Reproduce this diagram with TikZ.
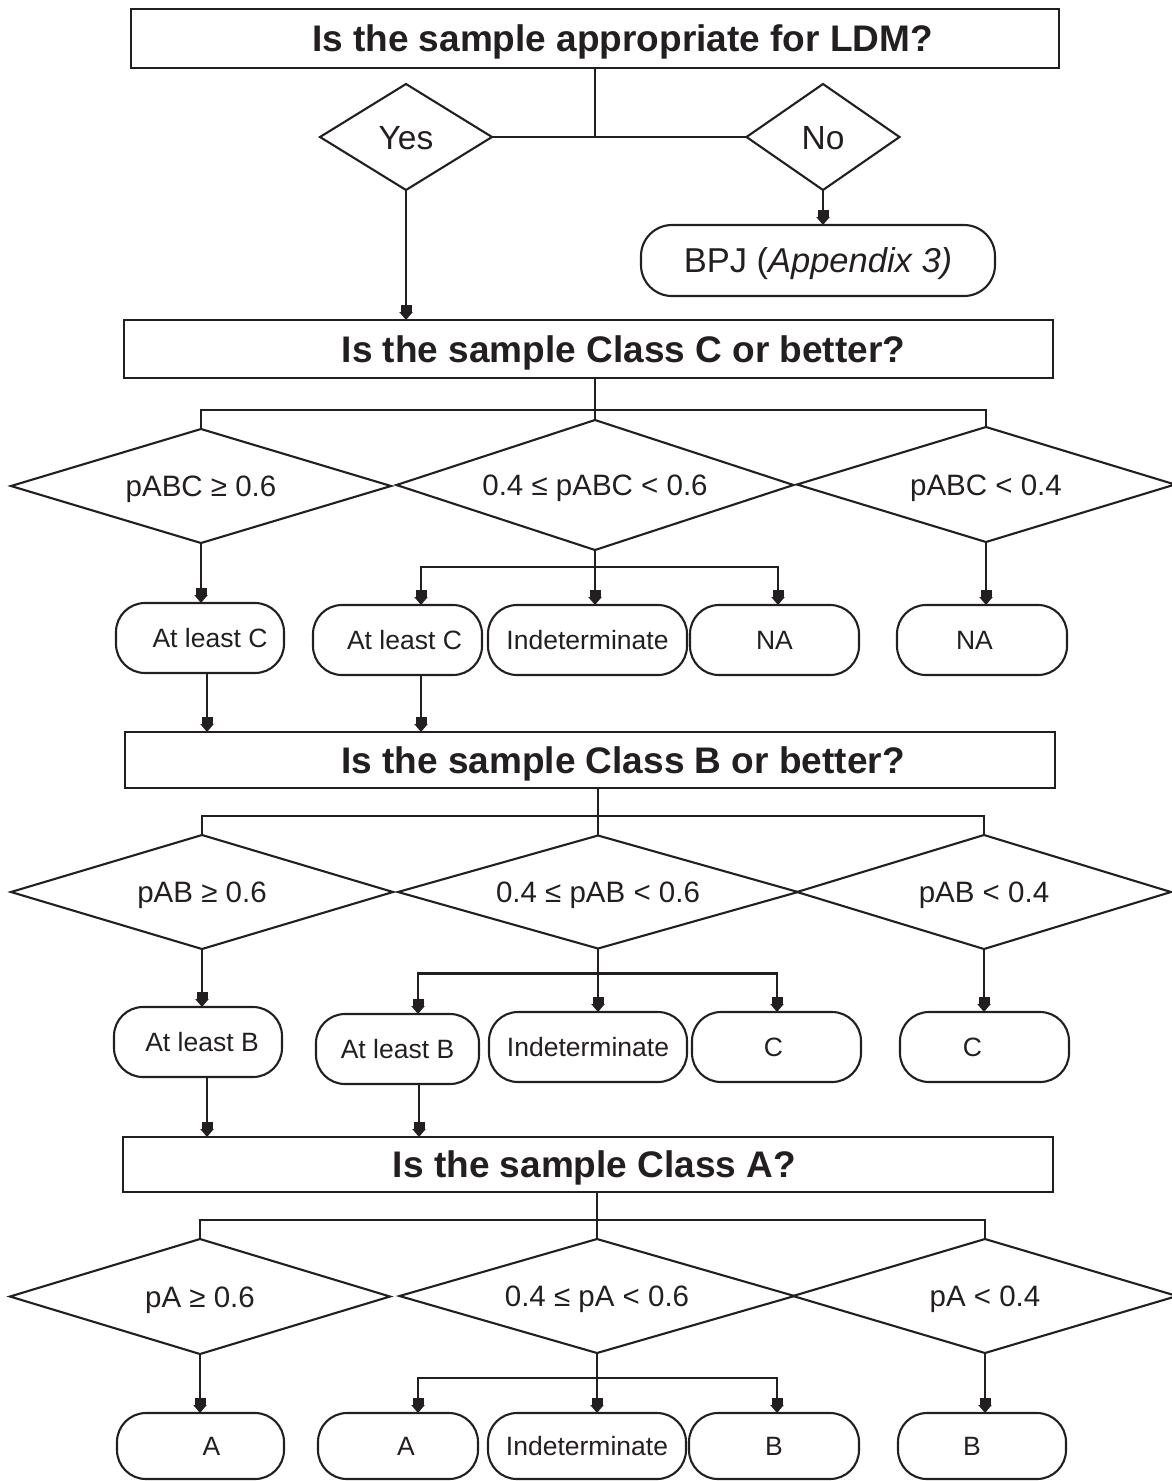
\documentclass[tikz,border=0pt]{standalone}
\usepackage{fontspec}
\setmainfont{Liberation Sans}
\usetikzlibrary{shapes.geometric,arrows.meta}
\definecolor{ink}{HTML}{231F20}
\begin{document}
\begin{tikzpicture}[x=1pt,y=-1pt,
  every node/.style={text=ink, inner sep=0pt, outer sep=0pt},
  wire/.style={draw=ink, line width=2.1pt},
  arr/.style={wire, -{Rectangle[length=7pt,width=11pt]Triangle[length=8pt,width=13pt]}},
  question/.style={draw=ink, line width=2.1pt, rectangle},
  qtext/.style={font=\fontsize{37}{40}\selectfont\bfseries, text height=26.5pt, text depth=0pt},
  choice/.style={draw=ink, line width=2.1pt, diamond, aspect=1.6,
    minimum height=106pt, font=\fontsize{33.5}{36}\selectfont, text height=24pt, text depth=0pt},
  test/.style={draw=ink, line width=2.1pt, diamond, aspect=3.3,
    font=\fontsize{29.5}{32}\selectfont, text height=21.1pt, text depth=0pt},
  outcome/.style={draw=ink, line width=2.1pt, rectangle, rounded corners=29pt,
    minimum height=70pt, font=\fontsize{26.5}{29}\selectfont, text height=19pt, text depth=0pt},
]
\useasboundingbox (0,0) rectangle (1171,1481);

% ---------- first question ----------
\node[question, minimum width=928pt, minimum height=59pt,
  label={[qtext, xshift=27.5pt]center:Is the sample appropriate for LDM?}] (q0) at (595,38.5) {};
\node[choice, minimum width=172pt] (yes) at (406,137) {Yes};
\node[choice, minimum width=153pt] (no) at (823,137) {No};
\node[outcome, minimum width=354pt, minimum height=71pt, rounded corners=31pt,
  font=\fontsize{34.5}{37}\selectfont, text height=24.7pt] (bpj) at (818,260.5) {BPJ (\textit{Appendix 3)}};

% ---------- Class C ----------
\node[question, minimum width=929pt, minimum height=58pt,
  label={[qtext, xshift=35pt]center:Is the sample Class C or better?}] (qC) at (588.5,349) {};
\node[test, minimum width=380pt, minimum height=114pt] (C1) at (201,486) {pABC ≥ 0.6};
\node[test, minimum width=397pt, minimum height=130pt] (C2) at (595,485) {0.4 ≤ pABC < 0.6};
\node[test, minimum width=378pt, minimum height=115pt] (C3) at (986,484.5) {pABC < 0.4};
\node[outcome, minimum width=168pt] (T1) at (200,638) {\hspace*{20pt}At least C};
\node[outcome, minimum width=169pt] (T2) at (397.5,640) {\hspace*{14pt}At least C};
\node[outcome, minimum width=199pt] (T3) at (587.5,640) {Indeterminate};
\node[outcome, minimum width=169pt] (T4) at (774.5,640) {NA};
\node[outcome, minimum width=170pt] (T5) at (982,640) {NA\hspace*{15pt}};

% ---------- Class B ----------
\node[question, minimum width=930pt, minimum height=56pt,
  label={[qtext, xshift=33pt]center:Is the sample Class B or better?}] (qB) at (590,760) {};
\node[test, minimum width=382pt, minimum height=114pt] (B1) at (202,892) {pAB ≥ 0.6};
\node[test, minimum width=400pt, minimum height=113pt] (B2) at (598,892) {0.4 ≤ pAB < 0.6};
\node[test, minimum width=374pt, minimum height=114pt] (B3) at (984,892) {pAB < 0.4};
\node[outcome, minimum width=168pt] (U1) at (198,1042) {\hspace*{8pt}At least B};
\node[outcome, minimum width=163pt] (U2) at (397.5,1049) {At least B};
\node[outcome, minimum width=198pt] (U3) at (588,1047) {Indeterminate};
\node[outcome, minimum width=169pt] (U4) at (776.5,1047) {C\hspace*{6pt}};
\node[outcome, minimum width=169pt] (U5) at (984.5,1047) {C\hspace*{24pt}};

% ---------- Class A ----------
\node[question, minimum width=930pt, minimum height=55pt,
  label={[qtext, xshift=6.5pt]center:Is the sample Class A?}] (qA) at (588,1164.5) {};
\node[test, minimum width=380pt, minimum height=115pt] (A1) at (200,1296.5) {pA ≥ 0.6};
\node[test, minimum width=395pt, minimum height=114pt] (A2) at (597,1296) {0.4 ≤ pA < 0.6};
\node[test, minimum width=384pt, minimum height=114pt] (A3) at (985,1296) {pA < 0.4};
\node[outcome, minimum width=167pt, minimum height=66pt] (V1) at (200.5,1446) {\hspace*{22pt}A};
\node[outcome, minimum width=160pt, minimum height=66pt] (V2) at (398,1446) {\hspace*{16pt}A};
\node[outcome, minimum width=198pt, minimum height=66pt] (V3) at (587,1446) {Indeterminate};
\node[outcome, minimum width=170pt, minimum height=66pt] (V4) at (774,1446) {B};
\node[outcome, minimum width=168pt, minimum height=66pt] (V5) at (982,1446) {B\hspace*{20pt}};

% ---------- connectors: first question ----------
\draw[wire] (q0.south) -- (q0.south |- yes.east);
\draw[wire] (yes.east) -- (no.west);
\draw[arr] (yes.south) -- (yes.south |- qC.north);
\draw[arr] (no.south) -- (no.south |- bpj.north);

% ---------- connectors: Class C ----------
\draw[wire] (qC.south -| C2.north) -- (C2.north);
\draw[wire] (C1.north) -- ++(0,-19) -| (C3.north);
\path (C2.south) ++(0,17) coordinate (jC);
\draw[wire] (C2.south) -- (jC);
\coordinate (T2in) at ([xshift=23.5pt]T2.north);
\coordinate (T4in) at ([xshift=3.5pt]T4.north);
\draw[arr] (jC) -| (T2in);
\draw[arr] (jC) -- (jC |- T3.north);
\draw[arr] (jC) -| (T4in);
\draw[arr] (C1.south) -- (C1.south |- T1.north);
\draw[arr] (C3.south) -- (C3.south |- T5.north);
\coordinate (T1out) at ([xshift=7pt]T1.south);
\coordinate (T2out) at ([xshift=23.5pt]T2.south);
\draw[arr] (T1out) -- (T1out |- qB.north);
\draw[arr] (T2out) -- (T2out |- qB.north);

% ---------- connectors: Class B ----------
\draw[wire] (qB.south -| B2.north) -- (B2.north);
\draw[wire] (B1.north) -- ++(0,-19) -| (B3.north);
\path (B2.south) ++(0,25) coordinate (jB);
\draw[wire] (B2.south) -- (jB);
\coordinate (U2in) at ([xshift=20.5pt]U2.north);
\coordinate (U4in) at ([xshift=0.5pt]U4.north);
\draw[arr] (jB) -| (U2in);
\draw[arr] (jB) -- (jB |- U3.north);
\draw[arr] (jB) -| (U4in);
\draw[arr] (B1.south) -- (B1.south |- U1.north);
\draw[arr] (B3.south) -- (B3.south |- U5.north);
\coordinate (U1out) at ([xshift=9pt]U1.south);
\coordinate (U2out) at ([xshift=21.5pt]U2.south);
\draw[arr] (U1out) -- (U1out |- qA.north);
\draw[arr] (U2out) -- (U2out |- qA.north);

% ---------- connectors: Class A ----------
\draw[wire] (qA.south -| A2.north) -- (A2.north);
\draw[wire] (A1.north) -- ++(0,-19) -| (A3.north);
\path (A2.south) ++(0,25) coordinate (jA);
\draw[wire] (A2.south) -- (jA);
\coordinate (V2in) at ([xshift=20pt]V2.north);
\coordinate (V4in) at ([xshift=3pt]V4.north);
\draw[arr] (jA) -| (V2in);
\draw[arr] (jA) -- (jA |- V3.north);
\draw[arr] (jA) -| (V4in);
\draw[arr] (A1.south) -- (A1.south |- V1.north);
\draw[arr] (A3.south) -- (A3.south |- V5.north);
\end{tikzpicture}
\end{document}
